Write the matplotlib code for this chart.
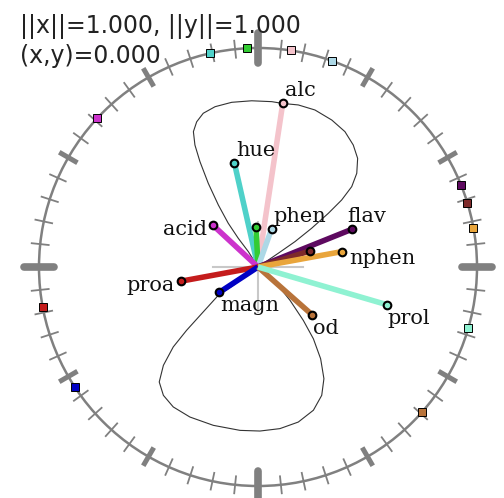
import numpy as np
import matplotlib
matplotlib.use('Agg')
import matplotlib.pyplot as plt
from matplotlib.collections import LineCollection
from matplotlib.patches import Circle

# variables: projected axis end points (unit circle = 1)
names = ['alc', 'hue', 'ash', 'phen', 'acid', 'flav', 'col', 'nphen', 'proa', 'magn', 'od', 'prol']
labels = ['alc', 'hue', '', 'phen', 'acid', 'flav', '', 'nphen', 'proa', 'magn', 'od', 'prol']
px = [0.113, -0.108, -0.009, 0.062, -0.207, 0.428, 0.237, 0.382, -0.353, -0.177, 0.248, 0.588]
py = [0.747, 0.476, 0.184, 0.174, 0.192, 0.172, 0.073, 0.070, -0.065, -0.116, -0.219, -0.172]
colors = ['#f4c3cb', '#4fd1c9', '#33cc33', '#add8e6', '#cc33cc', '#5e0a60',
          '#7e2a2a', '#e9a53b', '#c41c1c', '#0000c4', '#b8733a', '#8ff2d2']
place = ['ne', 'ne', 'ne', 'ne', 'w', 'nw', 'ne', 'e', 'w', 'se', 'se', 'se']

# figure-eight curve
lobe1_x = [0, -0.044, -0.090, -0.136, -0.181, -0.227, -0.265, -0.288, -0.295, -0.280, -0.250,
           -0.196, -0.120, -0.029, 0.063, 0.111, 0.184, 0.260, 0.337, 0.397, 0.435, 0.455,
           0.451, 0.428, 0.382, 0.321, 0.245, 0.169, 0.093, 0]
lobe1_y = [0, 0.070, 0.131, 0.200, 0.283, 0.382, 0.481, 0.557, 0.618, 0.663, 0.702,
           0.732, 0.752, 0.759, 0.755, 0.747, 0.740, 0.717, 0.671, 0.618, 0.557, 0.496,
           0.428, 0.367, 0.306, 0.245, 0.177, 0.116, 0.063, 0]
lobe2_x = [0, -0.052, -0.113, -0.181, -0.250, -0.326, -0.387, -0.432, -0.451, -0.432, -0.387,
           -0.311, -0.204, -0.082, 0.009, 0.100, 0.184, 0.253, 0.291, 0.301, 0.286, 0.253,
           0.207, 0.146, 0.085, 0.032, 0]
lobe2_y = [0, -0.038, -0.084, -0.129, -0.205, -0.289, -0.365, -0.449, -0.525, -0.586, -0.639,
           -0.685, -0.723, -0.746, -0.749, -0.738, -0.708, -0.654, -0.586, -0.510, -0.419, -0.328,
           -0.244, -0.152, -0.076, -0.023, 0]

norm_txt = '||x||=1.000, ||y||=1.000'
dot_txt = '(x,y)=0.000'

fig = plt.figure(figsize=(5.04, 4.98), dpi=100)
ax = fig.add_axes([0, 0, 1, 1])
ax.set_xlim(-258 / 219, 246 / 219)
ax.set_ylim(-231 / 219, 267 / 219)
ax.axis('off')

# outer circle + ticks
ax.add_patch(Circle((0, 0), 1, fill=False, ec='#808080', lw=1.8, zorder=2))
ang = np.deg2rad(np.arange(0, 360, 6))
minor, mid, big = [], [], []
for k, a in enumerate(ang):
    c, s = np.cos(a), np.sin(a)
    if k % 15 == 0:
        big.append([(0.93 * c, 0.93 * s), (1.07 * c, 1.07 * s)])
    elif k % 5 == 0:
        mid.append([(0.952 * c, 0.952 * s), (1.048 * c, 1.048 * s)])
    else:
        minor.append([(0.957 * c, 0.957 * s), (1.043 * c, 1.043 * s)])
ax.add_collection(LineCollection(minor, colors='#808080', lw=1.3, zorder=2))
ax.add_collection(LineCollection(mid, colors='#808080', lw=3.6, zorder=2))
ax.add_collection(LineCollection(big, colors='#808080', lw=5.5, capstyle='round', zorder=2))

# grey cross at centre
ax.plot([-0.205, 0.205], [0, 0], color='#c8c8c8', lw=1.5, zorder=3)
ax.plot([0, 0], [-0.205, 0.205], color='#c8c8c8', lw=1.5, zorder=3)

# curve
ax.plot(lobe1_x, lobe1_y, color='#333333', lw=0.8, zorder=3)
ax.plot(lobe2_x, lobe2_y, color='#333333', lw=0.8, zorder=3)

# direction squares on the circle
theta = np.arctan2(py, px)
for i in range(len(names)):
    ax.plot(np.cos(theta[i]), np.sin(theta[i]), 's', ms=5.2, mfc=colors[i], mec='black',
            mew=0.7, zorder=5)

# axes segments
offs = {'ne': (2, 7, 'left', 'baseline'), 'nw': (-4, 7, 'left', 'baseline'),
        'w': (-6, -10, 'right', 'baseline'), 'e': (8, -12, 'left', 'baseline'),
        'se': (1, -19, 'left', 'baseline')}
for i in range(len(names)):
    ax.plot([0, px[i]], [0, py[i]], color=colors[i], lw=4, solid_capstyle='butt', zorder=6)
for i in range(len(names)):
    ax.plot(px[i], py[i], 'o', ms=5.5, mfc=colors[i], mec='black', mew=1.5, zorder=7)
    if labels[i]:
        dx, dy, ha, va = offs[place[i]]
        ax.annotate(labels[i], (px[i], py[i]), xytext=(dx, dy), textcoords='offset pixels',
                    ha=ha, va=va, fontsize=15, family='DejaVu Serif', color='#111111', zorder=8)

fig.text(20 / 504, 1 - 33 / 498, norm_txt, fontsize=17, family='DejaVu Sans',
         color='#222222', va='baseline', ha='left')
fig.text(20 / 504, 1 - 63 / 498, dot_txt, fontsize=17, family='DejaVu Sans',
         color='#222222', va='baseline', ha='left')

plt.savefig('out.png', dpi=100)
